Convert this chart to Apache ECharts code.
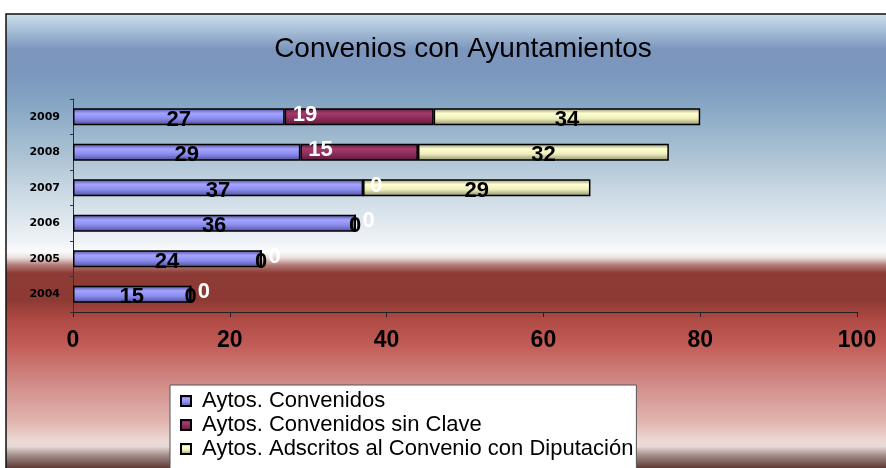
<!DOCTYPE html>
<html>
<head>
<meta charset="utf-8">
<script src="https://cdn.jsdelivr.net/npm/echarts@6/dist/echarts.min.js"></script>
<style>
  html, body { margin: 0; padding: 0; background: #fff; }
  #chart { width: 886px; height: 468px; }
</style>
</head>
<body>
<div id="chart"></div>
<script>
// datos
const years = ['2004', '2005', '2006', '2007', '2008', '2009'];
const convenidos = [15, 24, 36, 37, 29, 27];
const sinClave = [0, 0, 0, 0, 15, 19];
const adscritos = [0, 0, 0, 29, 32, 34];
const seriesNames = ['Aytos. Convenidos', 'Aytos. Convenidos sin Clave', 'Aytos. Adscritos al Convenio con Diputación'];
const xTicks = { min: 0, max: 100, step: 20 };

const chart = echarts.init(document.getElementById('chart'));

// degradado vertical para las barras (tipo "cilindro" de Excel)
function barFill(dark, light, mid) {
    return new echarts.graphic.LinearGradient(0, 0, 0, 1, [
        { offset: 0, color: dark },
        { offset: 0.3, color: light },
        { offset: 0.6, color: mid },
        { offset: 1, color: dark }
    ]);
}

const bg = new echarts.graphic.LinearGradient(0, 0, 0, 1, [
    { offset: 0, color: '#cde0ec' },
    { offset: 0.034, color: '#a9c1d8' },
    { offset: 0.077, color: '#7c95bd' },
    { offset: 0.13, color: '#7b97bd' },
    { offset: 0.183, color: '#84a4c3' },
    { offset: 0.289, color: '#a7bfd2' },
    { offset: 0.396, color: '#d0dde7' },
    { offset: 0.481, color: '#eef2f6' },
    { offset: 0.506, color: '#fafbfc' },
    { offset: 0.519, color: '#e8dcdb' },
    { offset: 0.534, color: '#b27c77' },
    { offset: 0.551, color: '#8c3b35' },
    { offset: 0.609, color: '#8e3a34' },
    { offset: 0.651, color: '#b04a45' },
    { offset: 0.704, color: '#c25c57' },
    { offset: 0.779, color: '#d08884' },
    { offset: 0.864, color: '#e1b3ae' },
    { offset: 0.906, color: '#ecd8d3' },
    { offset: 0.919, color: '#e6d8d4' },
    { offset: 0.938, color: '#a08c88' },
    { offset: 0.966, color: '#5a3530' },
    { offset: 1, color: '#4a2a26' }
]);

const labelFont = { fontFamily: 'Liberation Sans', fontSize: 22, fontWeight: 'bold' };

const option = {
    backgroundColor: '#fff',
    animation: false,
    graphic: [{
        type: 'rect',
        z: -10,
        shape: { x: 6, y: 14, width: 900, height: 470 },
        style: { fill: bg, stroke: '#111', lineWidth: 1.5 }
    }],
    title: {
        text: 'Convenios con Ayuntamientos',
        left: 458,
        textAlign: 'center',
        top: 30,
        textStyle: { fontFamily: 'Liberation Sans', fontSize: 28, fontWeight: 'normal', color: '#000' }
    },
    legend: {
        orient: 'vertical',
        left: 170,
        top: 385,
        height: 200,
        data: seriesNames,
        formatter: ' {name}',
        backgroundColor: '#fff',
        borderColor: '#555',
        borderWidth: 1,
        padding: [5, 3, 30, 10],
        itemWidth: 10,
        itemHeight: 10,
        itemGap: 2,
        icon: 'rect',
        textStyle: { fontFamily: 'Liberation Sans', fontSize: 22, color: '#000', lineHeight: 22 }
    },
    grid: { left: 73, right: 29, top: 99, bottom: 156 },
    xAxis: {
        type: 'value',
        min: xTicks.min,
        max: xTicks.max,
        interval: xTicks.step,
        splitLine: { show: false },
        axisLine: { show: true, lineStyle: { color: '#222', width: 1 } },
        axisTick: { show: true, length: 5, lineStyle: { color: '#222' } },
        axisLabel: { margin: 17, color: '#000', fontFamily: 'Liberation Sans', fontSize: 23, fontWeight: 'bold' }
    },
    yAxis: {
        type: 'category',
        data: years,
        axisLine: { show: true, lineStyle: { color: '#333', width: 1 } },
        axisTick: { show: true, length: 3, lineStyle: { color: '#333' } },
        axisLabel: { margin: 13, color: '#000', fontFamily: 'DejaVu Sans', fontSize: 11, fontWeight: 'bold' }
    },
    series: [
        {
            name: seriesNames[0],
            type: 'bar',
            stack: 'total',
            barWidth: 17,
            data: convenidos,
            itemStyle: { color: barFill('#4e4e96', '#a4a4ff', '#8c8cf0'), borderColor: '#000', borderWidth: 1.5 },
            label: { show: true, position: 'inside', offset: [0, 3], color: '#000', ...labelFont }
        },
        {
            name: seriesNames[1],
            type: 'bar',
            stack: 'total',
            data: sinClave,
            itemStyle: { color: barFill('#5a1a3a', '#a33c6e', '#8c2c5a'), borderColor: '#000', borderWidth: 1.5 },
            label: { show: true, position: 'insideLeft', distance: 8, offset: [0, -2], color: '#fff', ...labelFont }
        },
        {
            name: seriesNames[2],
            type: 'bar',
            stack: 'total',
            data: adscritos,
            itemStyle: { color: barFill('#8e8e6e', '#ffffd2', '#eeeebb'), borderColor: '#000', borderWidth: 1.5 },
            label: { show: true, position: 'inside', offset: [0, 3], color: '#000', ...labelFont }
        }
    ]
};

chart.setOption(option);
</script>
</body>
</html>
